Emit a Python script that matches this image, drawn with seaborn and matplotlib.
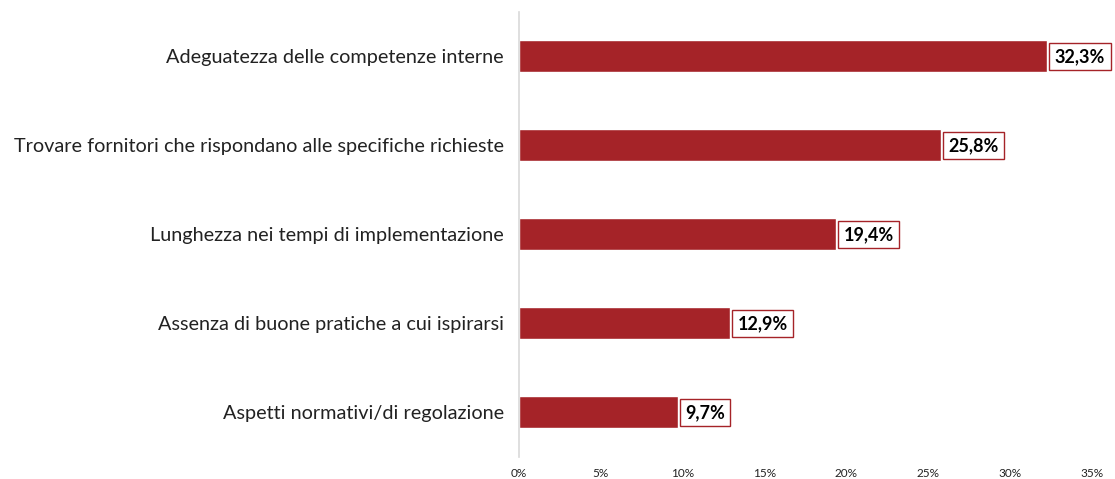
import pandas as pd
import seaborn as sns
import matplotlib.pyplot as plt
from matplotlib.ticker import FuncFormatter

# dati
categorie = [
    "Adeguatezza delle competenze interne",
    "Trovare fornitori che rispondano alle specifiche richieste",
    "Lunghezza nei tempi di implementazione",
    "Assenza di buone pratiche a cui ispirarsi",
    "Aspetti normativi/di regolazione",
]
valori = [32.3, 25.8, 19.4, 12.9, 9.7]
etichette = ["32,3%", "25,8%", "19,4%", "12,9%", "9,7%"]

df = pd.DataFrame({"categoria": categorie, "valore": valori})

sns.set_theme(style="white")
plt.rcParams['font.family'] = ['Lato', 'DejaVu Sans']

fig = plt.figure(figsize=(11.15, 4.79), dpi=100)
ax = fig.add_axes([0.4655, 0.046, 0.5135, 0.929])

rosso = "#A52328"
sns.barplot(data=df, x="valore", y="categoria", color=rosso, width=0.36,
            saturation=1, ax=ax)

ax.set_xlim(0, 35)
ax.set_ylim(4.5, -0.5)
ax.set_xticks(range(0, 36, 5))
ax.xaxis.set_major_formatter(FuncFormatter(lambda v, p: f"{int(v)}%"))
ax.tick_params(axis="x", labelsize=8.5, length=0, pad=8, colors="#222222")
ax.tick_params(axis="y", labelsize=14.3, length=0, pad=11, colors="#222222")
ax.set_xlabel("")
ax.set_ylabel("")

for s in ["top", "right", "bottom"]:
    ax.spines[s].set_visible(False)
ax.spines["left"].set_color("#D9D9D9")
ax.spines["left"].set_linewidth(1.2)

for i, (v, t) in enumerate(zip(valori, etichette)):
    ax.text(v + 0.45, i, t, va="center", ha="left", fontsize=13,
            fontweight="bold", color="black",
            bbox=dict(boxstyle="square,pad=0.3", facecolor="white",
                      edgecolor=rosso, linewidth=1))

fig.savefig("out.png", dpi=100)
